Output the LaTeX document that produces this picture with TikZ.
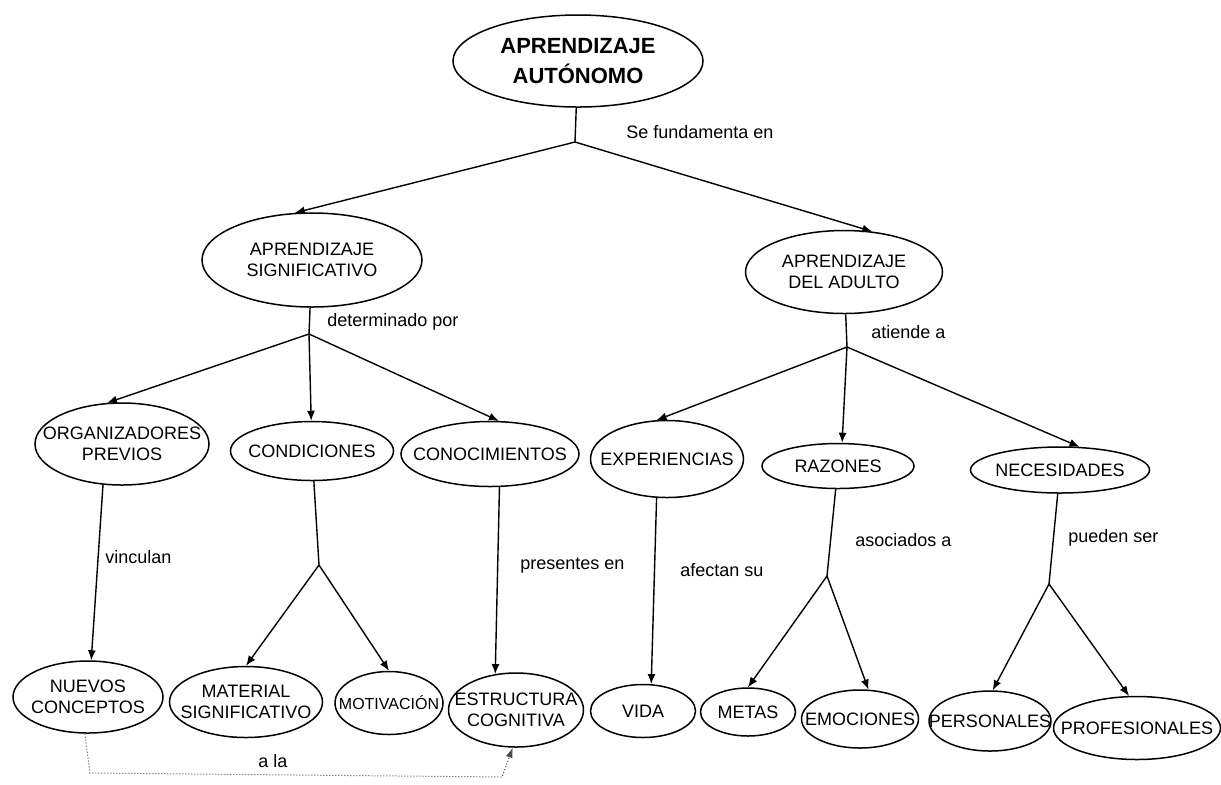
\documentclass[tikz,border=0pt]{standalone}
\usepackage{fontspec}
\setmainfont{Liberation Sans}
\usetikzlibrary{shapes.geometric,arrows.meta}

\begin{document}
\begin{tikzpicture}
  [x=.5pt,y=-.5pt,
   oval/.style 2 args={ellipse,draw,line width=.75pt,minimum width=#1*.5pt,minimum height=#2*.5pt,inner sep=0pt},
   every label/.style={align=center,inner sep=0pt,font=\fontsize{9}{10.5}\selectfont},
   rel/.style={anchor=west,inner sep=0pt,font=\fontsize{9}{10.5}\selectfont},
   link/.style={line width=.7pt},
   arr/.style={line width=.7pt,-{Latex[length=5pt,width=4pt]}},
   dots/.style={densely dotted,line width=.5pt,black!70,-{Latex[length=5pt,width=3.5pt]}}]
  \useasboundingbox (0,0) rectangle (1221,784);

  % concepts
  \node[oval={250}{92},label={[font=\fontsize{11}{15}\selectfont\bfseries]center:APRENDIZAJE\\AUTÓNOMO}] (aa) at (578,61) {};
  \node[oval={220}{94},label=center:{APRENDIZAJE\\SIGNIFICATIVO}] (as) at (312,260) {};
  \node[oval={197}{83},label=center:{APRENDIZAJE\\DEL ADULTO}]    (ad) at (844,272) {};

  \node[oval={174}{82},label=center:{ORGANIZADORES\\PREVIOS}] (op) at (122,444) {};
  \node[oval={163}{59},label=center:CONDICIONES]   (co) at (312,451) {};
  \node[oval={178}{65},label=center:CONOCIMIENTOS] (cn) at (490,454) {};
  \node[oval={153}{77},label=center:EXPERIENCIAS]  (ex) at (667,459) {};
  \node[oval={152}{45},label=center:RAZONES]       (ra) at (838,466) {};
  \node[oval={179}{46},label=center:NECESIDADES]   (ne) at (1060,470) {};

  \node[oval={150}{72},label=center:{NUEVOS\\CONCEPTOS}]        (nc) at (88,697)  {};
  \node[oval={153}{71},label=center:{MATERIAL\\SIGNIFICATIVO}]  (ms) at (246,702) {};
  \node[oval={108}{63},label={[font=\fontsize{8}{9}\selectfont]center:MOTIVACIÓN}] (mo) at (389,703) {};
  \node[oval={135}{74},label=center:{ESTRUCTURA\\COGNITIVA}]    (ec) at (516,710) {};
  \node[oval={105}{53},label=center:VIDA]          (vi) at (643,711)  {};
  \node[oval={95}{48},label=center:METAS]          (me) at (748,712)  {};
  \node[oval={117}{58},label=center:EMOCIONES]     (em) at (860,719)  {};
  \node[oval={122}{60},label=center:PERSONALES]    (pe) at (990,721)  {};
  \node[oval={167}{63},label=center:PROFESIONALES] (pr) at (1137,728) {};

  % branch points
  \coordinate (j0) at (575,142);
  \coordinate (j1) at (309,334);
  \coordinate (j2) at (847,347);
  \coordinate (j3) at (319,565);
  \coordinate (j4) at (827,576);
  \coordinate (j5) at (1049,584);
  \coordinate (d1) at (90,773);
  \coordinate (d2) at (502,777);

  % linking words
  \node[rel] (l0) at (626,132) {Se fundamenta en};
  \node[rel] (l1) at (327,322) {determinado por};
  \node[rel] (l2) at (871,332) {atiende a};
  \node[rel] (l3) at (105,557) {vinculan};
  \node[rel] (l4) at (520,566) {presentes en};
  \node[rel] (l5) at (680,570) {afectan su};
  \node[rel] (l6) at (855,540) {asociados a};
  \node[rel] (l7) at (1068,538) {pueden ser};
  \node[rel] (l8) at (258,761) {a la};

  \foreach \from/\to in {aa/j0,as/j1,ad/j2,co/j3,ra/j4,ne/j5}
    \draw[link] (\from) -- (\to);

  \foreach \from/\to in {j0/as.110,j0/ad.55,j1/op.110,j1/co,j1/cn.75,
                         j2/ex.105,j2/ra.80,j2/ne.50,j3/ms.north,j3/mo.north,
                         j4/me.north,j4/em.74,j5/pe.85,j5/pr.104,
                         op.245/nc.85,cn.286/ec.120,ex.255/vi.73}
    \draw[arr] (\from) -- (\to);

  \draw[dots] (nc.265) -- (d1) -- (d2) -- (ec.265);

\end{tikzpicture}
\end{document}
